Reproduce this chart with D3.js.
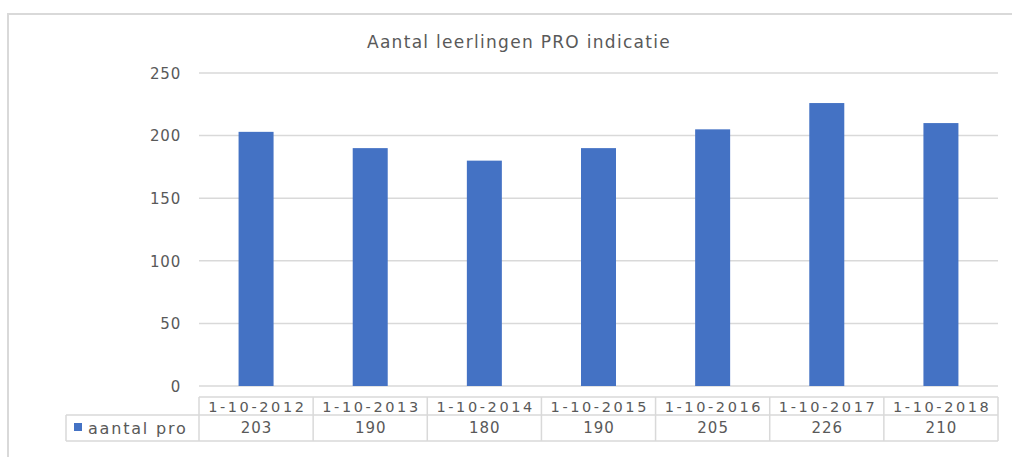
<!DOCTYPE html>
<html>
<head>
<meta charset="utf-8">
<script src="https://cdn.jsdelivr.net/npm/d3@7"></script>
<style>
  html, body { margin: 0; padding: 0; background: #fff; }
  svg { display: block; }
  text { font-family: "DejaVu Sans", sans-serif; fill: #595959; }
</style>
</head>
<body>
<svg id="chart" width="1012" height="457"></svg>
<script>
const title = "Aantal leerlingen PRO indicatie";
const seriesName = "aantal pro";
const categories = ["1-10-2012", "1-10-2013", "1-10-2014", "1-10-2015", "1-10-2016", "1-10-2017", "1-10-2018"];
const values = [203, 190, 180, 190, 205, 226, 210];
const yTicks = [0, 50, 100, 150, 200, 250];

const svg = d3.select("#chart");
const m = { left: 199, right: 998, top: 73, bottom: 386 };

// outer frame
svg.append("rect")
  .attr("x", 8).attr("y", 14)
  .attr("width", 1040).attr("height", 480)
  .attr("fill", "none").attr("stroke", "#d9d9d9").attr("stroke-width", 2);

const x = d3.scaleBand().domain(categories).range([m.left, m.right]).paddingInner(0).paddingOuter(0);
const y = d3.scaleLinear().domain([0, 250]).range([m.bottom, m.top]);

// title
svg.append("text")
  .attr("x", 519).attr("y", 48)
  .attr("text-anchor", "middle")
  .style("font-size", "17px")
  .style("letter-spacing", "1.3px")
  .text(title);

// gridlines
svg.append("g")
  .selectAll("line").data(yTicks).join("line")
  .attr("x1", m.left).attr("x2", m.right)
  .attr("y1", d => y(d)).attr("y2", d => y(d))
  .attr("stroke", "#d9d9d9").attr("stroke-width", 1.5);

// y axis labels
const yAxis = d3.axisLeft(y).tickValues(yTicks).tickSize(0).tickPadding(0);
const gy = svg.append("g").attr("transform", `translate(${m.left - 18},0)`).call(yAxis);
gy.select(".domain").remove();
gy.selectAll("text")
  .style("font-size", "15px")
  .style("letter-spacing", "0.8px")
  .style("font-family", "DejaVu Sans, sans-serif")
  .attr("fill", "#595959")
  .attr("dy", "0.35em");

// bars
const barW = 35;
svg.append("g")
  .selectAll("rect").data(values).join("rect")
  .attr("x", (d, i) => x(categories[i]) + x.bandwidth() / 2 - barW / 2)
  .attr("width", barW)
  .attr("y", d => y(d))
  .attr("height", d => y(0) - y(d))
  .attr("fill", "#4472c4");

// data table
const rowTop = 397, rowMid = 415, rowBot = 441;
const legendLeft = 66;
const tg = svg.append("g").attr("stroke", "#d9d9d9").attr("stroke-width", 1.5).attr("fill", "none");
tg.append("line").attr("x1", m.left).attr("x2", m.right).attr("y1", rowTop).attr("y2", rowTop);
tg.append("line").attr("x1", legendLeft).attr("x2", m.right).attr("y1", rowMid).attr("y2", rowMid);
tg.append("line").attr("x1", legendLeft).attr("x2", m.right).attr("y1", rowBot).attr("y2", rowBot);
tg.append("line").attr("x1", legendLeft).attr("x2", legendLeft).attr("y1", rowMid).attr("y2", rowBot);
const vx = categories.map(c => x(c)).concat([m.right]);
tg.selectAll("line.v").data(vx).join("line").attr("class", "v")
  .attr("x1", d => d).attr("x2", d => d).attr("y1", rowTop).attr("y2", rowBot);

svg.append("g").selectAll("text").data(categories).join("text")
  .attr("x", d => x(d) + x.bandwidth() / 2 + 1.3)
  .attr("y", (rowTop + rowMid) / 2 + 1)
  .attr("dy", "0.35em")
  .attr("text-anchor", "middle")
  .style("font-size", "14.5px")
  .style("letter-spacing", "2.6px")
  .text(d => d);

svg.append("g").selectAll("text").data(values).join("text")
  .attr("x", (d, i) => x(categories[i]) + x.bandwidth() / 2 + 0.5)
  .attr("y", (rowMid + rowBot) / 2)
  .attr("dy", "0.35em")
  .attr("text-anchor", "middle")
  .style("font-size", "15px")
  .style("letter-spacing", "1px")
  .text(d => d);

// legend key
svg.append("rect").attr("x", 74).attr("y", 423).attr("width", 8).attr("height", 8).attr("fill", "#4472c4");
svg.append("text").attr("x", 88).attr("y", (rowMid + rowBot) / 2).attr("dy", "0.35em")
  .style("font-size", "16px").style("letter-spacing", "1.8px").text(seriesName);
</script>
</body>
</html>
